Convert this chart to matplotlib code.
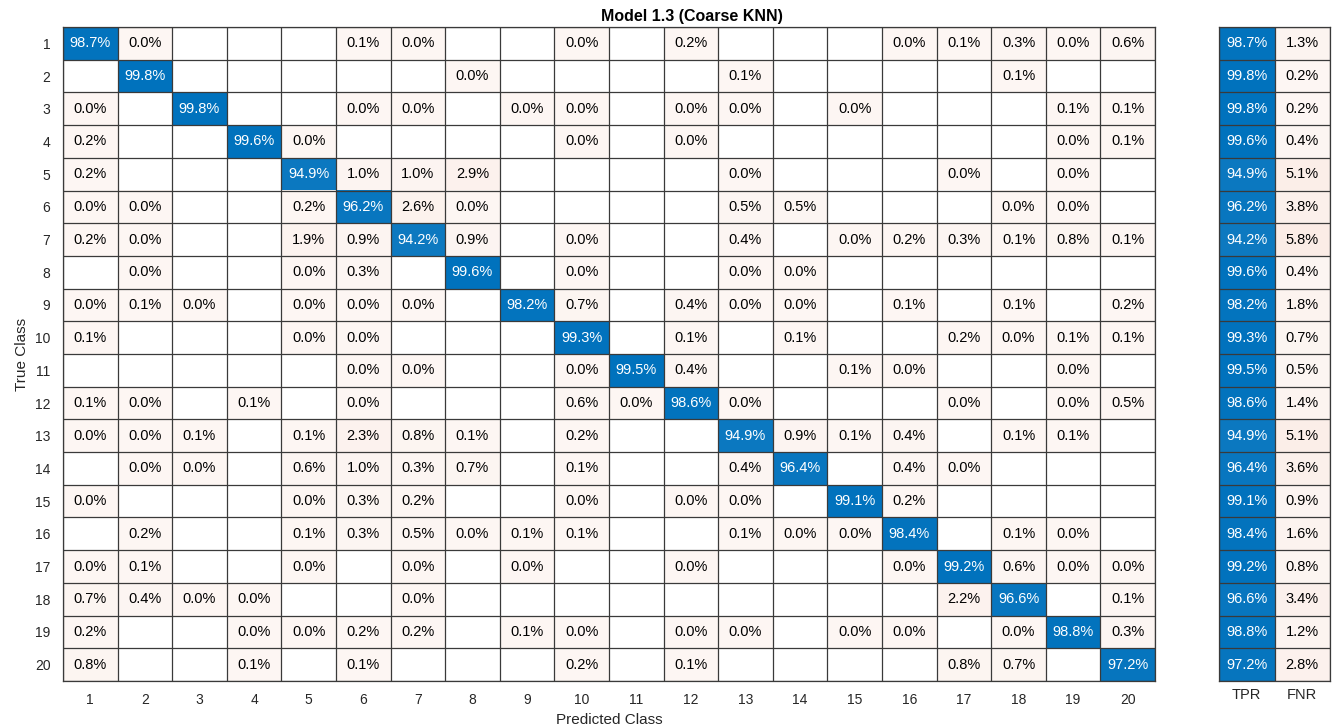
import numpy as np
import matplotlib.pyplot as plt
from matplotlib.colors import to_rgb

plt.rcParams['font.family'] = ['Liberation Sans', 'DejaVu Sans']

classes = [str(i) for i in range(1, 21)]
N = None
# row-normalised percentages, None = no samples
cm = [
    [98.7, 0.0, N, N, N, 0.1, 0.0, N, N, 0.0, N, 0.2, N, N, N, 0.0, 0.1, 0.3, 0.0, 0.6],
    [N, 99.8, N, N, N, N, N, 0.0, N, N, N, N, 0.1, N, N, N, N, 0.1, N, N],
    [0.0, N, 99.8, N, N, 0.0, 0.0, N, 0.0, 0.0, N, 0.0, 0.0, N, 0.0, N, N, N, 0.1, 0.1],
    [0.2, N, N, 99.6, 0.0, N, N, N, N, 0.0, N, 0.0, N, N, N, N, N, N, 0.0, 0.1],
    [0.2, N, N, N, 94.9, 1.0, 1.0, 2.9, N, N, N, N, 0.0, N, N, N, 0.0, N, 0.0, N],
    [0.0, 0.0, N, N, 0.2, 96.2, 2.6, 0.0, N, N, N, N, 0.5, 0.5, N, N, N, 0.0, 0.0, N],
    [0.2, 0.0, N, N, 1.9, 0.9, 94.2, 0.9, N, 0.0, N, N, 0.4, N, 0.0, 0.2, 0.3, 0.1, 0.8, 0.1],
    [N, 0.0, N, N, 0.0, 0.3, N, 99.6, N, 0.0, N, N, 0.0, 0.0, N, N, N, N, N, N],
    [0.0, 0.1, 0.0, N, 0.0, 0.0, 0.0, N, 98.2, 0.7, N, 0.4, 0.0, 0.0, N, 0.1, N, 0.1, N, 0.2],
    [0.1, N, N, N, 0.0, 0.0, N, N, N, 99.3, N, 0.1, N, 0.1, N, N, 0.2, 0.0, 0.1, 0.1],
    [N, N, N, N, N, 0.0, 0.0, N, N, 0.0, 99.5, 0.4, N, N, 0.1, 0.0, N, N, 0.0, N],
    [0.1, 0.0, N, 0.1, N, 0.0, N, N, N, 0.6, 0.0, 98.6, 0.0, N, N, N, 0.0, N, 0.0, 0.5],
    [0.0, 0.0, 0.1, N, 0.1, 2.3, 0.8, 0.1, N, 0.2, N, N, 94.9, 0.9, 0.1, 0.4, N, 0.1, 0.1, N],
    [N, 0.0, 0.0, N, 0.6, 1.0, 0.3, 0.7, N, 0.1, N, N, 0.4, 96.4, N, 0.4, 0.0, N, N, N],
    [0.0, N, N, N, 0.0, 0.3, 0.2, N, N, 0.0, N, 0.0, 0.0, N, 99.1, 0.2, N, N, N, N],
    [N, 0.2, N, N, 0.1, 0.3, 0.5, 0.0, 0.1, 0.1, N, N, 0.1, 0.0, 0.0, 98.4, N, 0.1, 0.0, N],
    [0.0, 0.1, N, N, 0.0, N, 0.0, N, 0.0, N, N, 0.0, N, N, N, 0.0, 99.2, 0.6, 0.0, 0.0],
    [0.7, 0.4, 0.0, 0.0, N, N, 0.0, N, N, N, N, N, N, N, N, N, 2.2, 96.6, N, 0.1],
    [0.2, N, N, 0.0, 0.0, 0.2, 0.2, N, 0.1, 0.0, N, 0.0, 0.0, N, 0.0, 0.0, N, 0.0, 98.8, 0.3],
    [0.8, N, N, 0.1, N, 0.1, N, N, N, 0.2, N, 0.1, N, N, N, N, 0.8, 0.7, N, 97.2],
]
tpr = [98.7, 99.8, 99.8, 99.6, 94.9, 96.2, 94.2, 99.6, 98.2, 99.3,
       99.5, 98.6, 94.9, 96.4, 99.1, 98.4, 99.2, 96.6, 98.8, 97.2]
fnr = [1.3, 0.2, 0.2, 0.4, 5.1, 3.8, 5.8, 0.4, 1.8, 0.7,
       0.5, 1.4, 5.1, 3.6, 0.9, 1.6, 0.8, 3.4, 1.2, 2.8]

blue = np.array(to_rgb('#0072BD'))
orange = np.array(to_rgb('#D95319'))
white = np.ones(3)


def shade(v, base, vmax=99.8):
    a = 0.05 + 0.95 * v / vmax
    return white * (1 - a) + base * a


n = len(classes)
img = np.ones((n, n, 3))
for i in range(n):
    for j in range(n):
        v = cm[i][j]
        if v is None:
            continue
        img[i, j] = shade(v, blue if i == j else orange)

fig = plt.figure(figsize=(13.39, 7.26), dpi=100)
ax = fig.add_axes([0.0470, 0.0620, 0.8156, 0.9008])
ax.imshow(img, aspect='auto', interpolation='nearest',
          extent=(0.5, n + 0.5, n + 0.5, 0.5))
for i in range(n):
    for j in range(n):
        v = cm[i][j]
        if v is None:
            continue
        ax.text(j + 1, i + 1, f'{v:.1f}%', ha='center', va='center',
                fontsize=10.5, color='white' if i == j else 'black')
ax.set_xticks(np.arange(1, n + 1))
ax.set_xticklabels(classes)
ax.set_yticks(np.arange(1, n + 1))
ax.set_yticklabels(classes)
ax.set_xticks(np.arange(0.5, n + 1), minor=True)
ax.set_yticks(np.arange(0.5, n + 1), minor=True)
ax.grid(which='minor', color='#3a3a3a', linewidth=0.9)
ax.tick_params(which='both', length=0, labelsize=10, colors='#262626', pad=9)
for s in ax.spines.values():
    s.set_color('#3a3a3a')
    s.set_linewidth(0.9)
ax.set_xlabel('Predicted Class', fontsize=11, color='#262626', labelpad=4)
ax.set_ylabel('True Class', fontsize=11, color='#262626', labelpad=4)
# title is centred over matrix + summary panel together
ax.set_title('Model 1.3 (Coarse KNN)', fontsize=11.5, fontweight='bold',
             pad=4, x=0.576)

# TPR / FNR summary
side = np.ones((n, 2, 3))
for i in range(n):
    side[i, 0] = shade(tpr[i], blue)
    side[i, 1] = shade(fnr[i], orange)
ax2 = fig.add_axes([0.9104, 0.0620, 0.0829, 0.9008])
ax2.imshow(side, aspect='auto', interpolation='nearest',
           extent=(0.5, 2.5, n + 0.5, 0.5))
for i in range(n):
    ax2.text(1, i + 1, f'{tpr[i]:.1f}%', ha='center', va='center',
             fontsize=10.5, color='white')
    ax2.text(2, i + 1, f'{fnr[i]:.1f}%', ha='center', va='center',
             fontsize=10.5, color='black')
ax2.set_xticks([1, 2])
ax2.set_xticklabels(['TPR', 'FNR'])
ax2.set_yticks([])
ax2.set_xticks([0.5, 1.5, 2.5], minor=True)
ax2.set_yticks(np.arange(0.5, n + 1), minor=True)
ax2.grid(which='minor', color='#3a3a3a', linewidth=0.9)
ax2.tick_params(which='both', length=0, labelsize=10.5, colors='#262626', pad=5)
for s in ax2.spines.values():
    s.set_color('#3a3a3a')
    s.set_linewidth(0.9)

fig.savefig('out.png', dpi=100)
